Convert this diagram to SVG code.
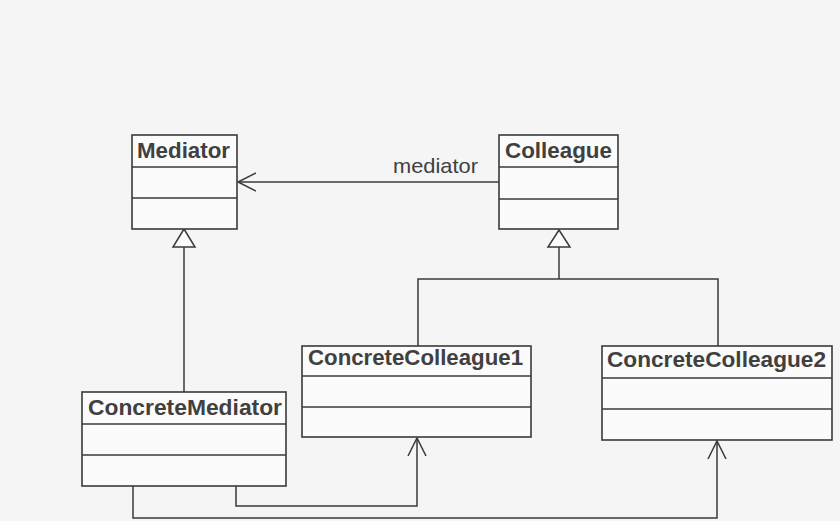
<svg xmlns="http://www.w3.org/2000/svg" width="840" height="521" viewBox="0 0 840 521">
  <defs>
    <style>
      .box { fill: #fbfbfb; stroke: #3a3a3a; stroke-width: 1.6; }
      .div { stroke: #3a3a3a; stroke-width: 1.6; }
      .name { font-family: "Liberation Sans", Arial, sans-serif; font-weight: bold; font-size: 22px; fill: #404040; }
      .label { font-family: "Liberation Sans", Arial, sans-serif; font-size: 21px; fill: #404040; }
      .edge { fill: none; stroke: #3a3a3a; stroke-width: 1.5; }
      .gen { fill: #fbfbfb; stroke: #3a3a3a; stroke-width: 1.5; }
    </style>
    <!-- open navigability arrowhead -->
    <marker id="open" viewBox="0 0 20 20" refX="18" refY="10" markerWidth="20" markerHeight="20" markerUnits="userSpaceOnUse" orient="auto">
      <path d="M0,1 L18,10 L0,19" fill="none" stroke="#3a3a3a" stroke-width="1.5"/>
    </marker>
  </defs>

  <rect width="840" height="521" fill="#f5f5f5"/>

  <!-- connectors -->
  <g id="connectors">
    <!-- Colleague -> Mediator association -->
    <line class="edge" x1="499" y1="182" x2="238" y2="182" marker-end="url(#open)"/>
    <text class="label" x="393" y="173" textLength="85" lengthAdjust="spacingAndGlyphs">mediator</text>

    <!-- ConcreteMediator generalizes Mediator -->
    <line class="edge" x1="184" y1="247" x2="184" y2="392"/>
    <polygon class="gen" points="184,229 173,247 195,247"/>

    <!-- Concrete colleagues generalize Colleague -->
    <polyline class="edge" points="418,346 418,279 718,279 718,346"/>
    <line class="edge" x1="559" y1="247" x2="559" y2="279"/>
    <polygon class="gen" points="559,230 548,247 570,247"/>

    <!-- ConcreteMediator -> ConcreteColleague1 -->
    <polyline class="edge" points="236,486 236,506 417,506 417,438" marker-end="url(#open)"/>
    <!-- ConcreteMediator -> ConcreteColleague2 -->
    <polyline class="edge" points="133,486 133,518 717,518 717,441" marker-end="url(#open)"/>
  </g>

  <g id="Mediator">
    <rect class="box" x="132" y="135" width="105" height="94"/>
    <line class="div" x1="132" y1="167" x2="237" y2="167"/>
    <line class="div" x1="132" y1="198" x2="237" y2="198"/>
    <text class="name" x="137" y="158" textLength="93" lengthAdjust="spacingAndGlyphs">Mediator</text>
  </g>

  <g id="Colleague">
    <rect class="box" x="499" y="135" width="119" height="94"/>
    <line class="div" x1="499" y1="167" x2="618" y2="167"/>
    <line class="div" x1="499" y1="199" x2="618" y2="199"/>
    <text class="name" x="505" y="158" textLength="107" lengthAdjust="spacingAndGlyphs">Colleague</text>
  </g>

  <g id="ConcreteMediator">
    <rect class="box" x="82" y="392" width="204" height="94"/>
    <line class="div" x1="82" y1="424" x2="286" y2="424"/>
    <line class="div" x1="82" y1="455" x2="286" y2="455"/>
    <text class="name" x="88" y="415" textLength="194" lengthAdjust="spacingAndGlyphs">ConcreteMediator</text>
  </g>

  <g id="ConcreteColleague1">
    <rect class="box" x="302" y="346" width="229" height="91"/>
    <line class="div" x1="302" y1="376" x2="531" y2="376"/>
    <line class="div" x1="302" y1="407" x2="531" y2="407"/>
    <text class="name" x="308" y="365" textLength="215" lengthAdjust="spacingAndGlyphs">ConcreteColleague1</text>
  </g>

  <g id="ConcreteColleague2">
    <rect class="box" x="602" y="346" width="230" height="94"/>
    <line class="div" x1="602" y1="378" x2="832" y2="378"/>
    <line class="div" x1="602" y1="409" x2="832" y2="409"/>
    <text class="name" x="607" y="367" textLength="219" lengthAdjust="spacingAndGlyphs">ConcreteColleague2</text>
  </g>
</svg>
